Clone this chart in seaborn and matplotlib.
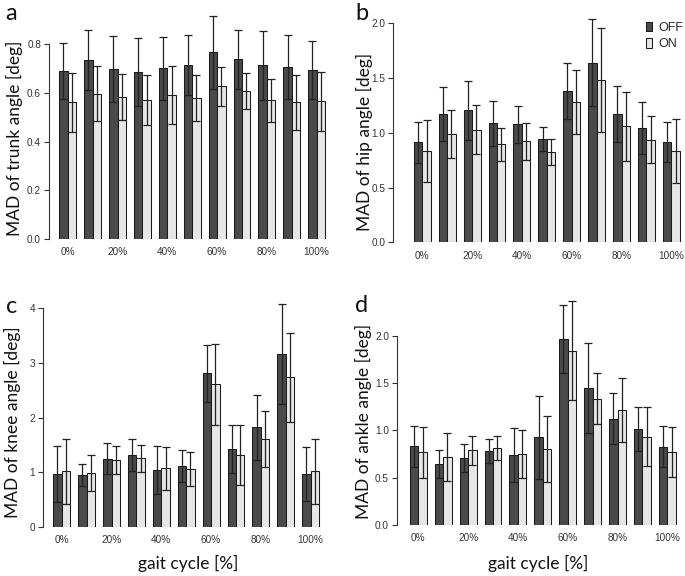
import numpy as np
import pandas as pd
import matplotlib
matplotlib.use("Agg")
import matplotlib.pyplot as plt
import seaborn as sns

# gait cycle phases and conditions
phases = ["0%", "10%", "20%", "30%", "40%", "50%", "60%", "70%", "80%", "90%", "100%"]
conds = ["OFF", "ON"]

# MAD values (mean and sd)
trunk_off = [0.690, 0.735, 0.697, 0.685, 0.702, 0.715, 0.767, 0.738, 0.714, 0.707, 0.694]
trunk_off_sd = [0.114, 0.125, 0.136, 0.140, 0.130, 0.123, 0.150, 0.120, 0.142, 0.132, 0.118]
trunk_on = [0.561, 0.597, 0.582, 0.571, 0.590, 0.578, 0.627, 0.608, 0.570, 0.561, 0.565]
trunk_on_sd = [0.120, 0.112, 0.095, 0.104, 0.120, 0.094, 0.080, 0.073, 0.088, 0.114, 0.120]

hip_off = [0.913, 1.174, 1.205, 1.087, 1.078, 0.946, 1.385, 1.640, 1.172, 1.044, 0.916]
hip_off_sd = [0.188, 0.245, 0.272, 0.206, 0.170, 0.110, 0.255, 0.396, 0.256, 0.240, 0.187]
hip_on = [0.831, 0.989, 1.026, 0.895, 0.922, 0.825, 1.284, 1.479, 1.059, 0.937, 0.834]
hip_on_sd = [0.283, 0.222, 0.224, 0.153, 0.168, 0.120, 0.292, 0.475, 0.313, 0.216, 0.288]

knee_off = [0.969, 0.951, 1.250, 1.311, 1.043, 1.110, 2.811, 1.427, 1.823, 3.164, 0.963]
knee_off_sd = [0.515, 0.198, 0.285, 0.293, 0.434, 0.293, 0.525, 0.437, 0.590, 0.913, 0.493]
knee_on = [1.018, 0.988, 1.226, 1.256, 1.073, 1.061, 2.610, 1.323, 1.610, 2.738, 1.018]
knee_on_sd = [0.600, 0.333, 0.259, 0.243, 0.388, 0.310, 0.737, 0.546, 0.516, 0.817, 0.598]

ankle_off = [0.831, 0.643, 0.707, 0.778, 0.735, 0.926, 1.969, 1.446, 1.124, 1.011, 0.827]
ankle_off_sd = [0.217, 0.147, 0.150, 0.125, 0.285, 0.437, 0.358, 0.477, 0.270, 0.235, 0.219]
ankle_on = [0.767, 0.714, 0.789, 0.816, 0.746, 0.806, 1.845, 1.336, 1.216, 0.930, 0.767]
ankle_on_sd = [0.270, 0.255, 0.155, 0.127, 0.256, 0.350, 0.520, 0.267, 0.343, 0.312, 0.265]

W, H = 685, 576
sns.set_style("ticks")
plt.rcParams["font.family"] = ["Liberation Sans", "DejaVu Sans"]

fig = plt.figure(figsize=(W / 100, H / 100), dpi=100)

# panel layout in pixels: spine x, first group centre, zero line y, px per unit
panels = [
    dict(key="a", label="MAD of trunk angle [deg]", off=trunk_off, off_sd=trunk_off_sd,
         on=trunk_on, on_sd=trunk_on_sd, spine=48.7, c1=67.7, y0=238.7, ppu=243.0,
         ymax=0.95, ticks=[0, 0.2, 0.4, 0.6, 0.8], fmt="{:.1f}", ylab=(14, 138), letter=(5, 20)),
    dict(key="b", label="MAD of hip angle [deg]", off=hip_off, off_sd=hip_off_sd,
         on=hip_on, on_sd=hip_on_sd, spine=393.3, c1=422.3, y0=242.3, ppu=109.5,
         ymax=2.1, ticks=[0, 0.5, 1.0, 1.5, 2.0], fmt="{:.1f}", ylab=(364, 142), letter=(355, 20)),
    dict(key="c", label="MAD of knee angle [deg]", off=knee_off, off_sd=knee_off_sd,
         on=knee_on, on_sd=knee_on_sd, spine=42.7, c1=61.7, y0=527.0, ppu=54.67,
         ymax=4.2, ticks=[0, 1, 2, 3, 4], fmt="{:.0f}", ylab=(12, 422), letter=(6, 313)),
    dict(key="d", label="MAD of ankle angle [deg]", off=ankle_off, off_sd=ankle_off_sd,
         on=ankle_on, on_sd=ankle_on_sd, spine=396.7, c1=418.3, y0=524.7, ppu=94.4,
         ymax=2.45, ticks=[0, 0.5, 1.0, 1.5, 2.0], fmt="{:.1f}", ylab=(363, 421), letter=(355, 312)),
]

step = 24.9
palette = {"OFF": "#4a4a4a", "ON": "#e6e6e6"}

for p in panels:
    left = p["spine"]
    right = p["c1"] + 10.45 * step
    height = p["ymax"] * p["ppu"]
    ax = fig.add_axes([left / W, 1 - p["y0"] / H, (right - left) / W, height / H])

    df = pd.DataFrame({
        "phase": phases * 2,
        "cond": ["OFF"] * len(phases) + ["ON"] * len(phases),
        "mad": p["off"] + p["on"],
    })
    sns.barplot(data=df, x="phase", y="mad", hue="cond", order=phases, hue_order=conds,
                palette=palette, width=0.68, errorbar=None, edgecolor="#1a1a1a",
                linewidth=0.75, saturation=1, legend=(p["key"] == "b"), ax=ax)

    # error bars (mean +/- sd) on top of each bar
    for cont, sd in zip(ax.containers, [p["off_sd"], p["on_sd"]]):
        xs = [b.get_x() + b.get_width() / 2 for b in cont]
        ys = [b.get_height() for b in cont]
        ax.errorbar(xs, ys, yerr=sd, fmt="none", ecolor="#222222", elinewidth=0.9,
                    capsize=3.0, capthick=0.9, zorder=3)

    ax.set_xlim(-(p["c1"] - p["spine"]) / step, 10.45)
    ax.set_ylim(0, p["ymax"])
    ax.set_xticks(range(0, 11, 2))
    ax.set_xticklabels(phases[::2])
    ax.set_yticks(p["ticks"])
    ax.set_yticklabels([p["fmt"].format(t) for t in p["ticks"]])
    ax.tick_params(axis="x", length=0, pad=6, labelsize=7.2, labelcolor="#333333")
    ax.tick_params(axis="y", length=3.5, width=0.8, pad=2, labelsize=7.2,
                   labelcolor="#333333", color="#333333")
    for s in ["top", "right", "bottom"]:
        ax.spines[s].set_visible(False)
    ax.spines["left"].set_bounds(0, p["ticks"][-1])
    ax.spines["left"].set_linewidth(0.8)
    ax.spines["left"].set_color("#333333")
    ax.set_facecolor("none")

    ax.set_ylabel(p["label"], fontsize=12.5, family="Lato", color="#111111")
    ax.yaxis.set_label_coords(p["ylab"][0] / W, 1 - p["ylab"][1] / H, transform=fig.transFigure)
    ax.yaxis.label.set_va("center")
    ax.set_xlabel("")

    if p["key"] in ("c", "d"):
        ax.set_xlabel("gait cycle [%]", fontsize=12.5, family="Lato", color="#111111")
        cx = 188 if p["key"] == "c" else 538
        ax.xaxis.set_label_coords(cx / W, 1 - 563 / H, transform=fig.transFigure)
        ax.xaxis.label.set_va("center")

    if p["key"] == "b":
        h, l = ax.get_legend_handles_labels()
        ax.legend(h, l, loc="upper right", bbox_to_anchor=(683 / W, 1 - 22 / H),
                  bbox_transform=fig.transFigure, frameon=False, fontsize=9,
                  handlelength=0.5, handleheight=0.75, handletextpad=0.5,
                  labelspacing=0.35, borderpad=0, borderaxespad=0)

    fig.text(p["letter"][0] / W, 1 - p["letter"][1] / H, p["key"], fontsize=17,
             family="Lato", ha="left", va="baseline", color="#111111")

fig.savefig("out.png", dpi=100)
